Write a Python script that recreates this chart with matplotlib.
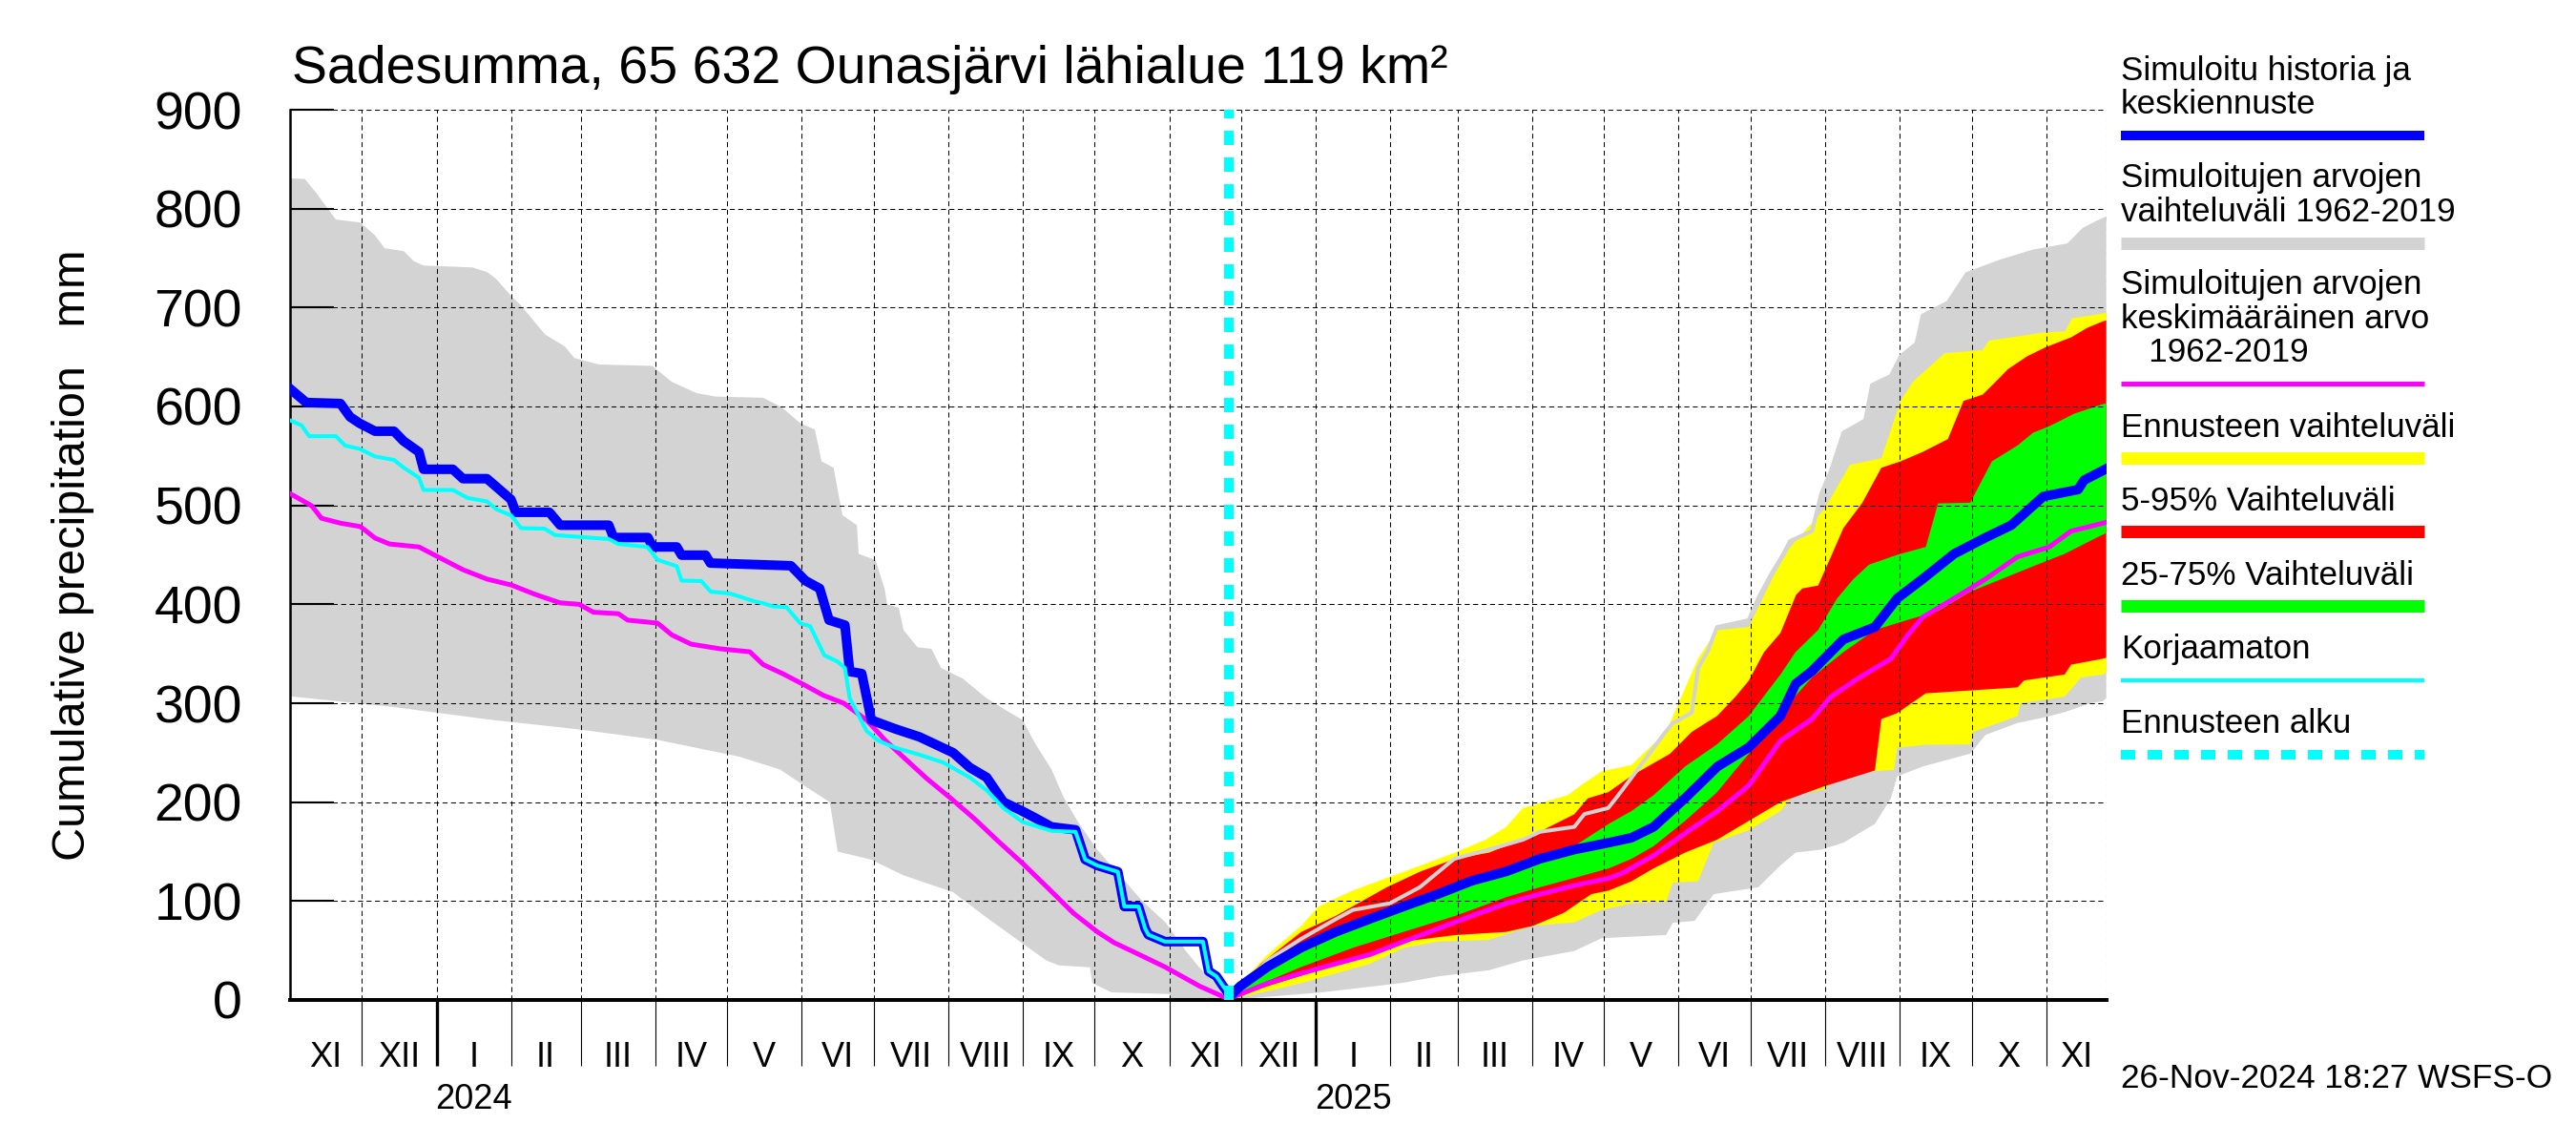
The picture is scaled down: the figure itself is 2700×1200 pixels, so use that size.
import datetime as dt

import matplotlib.pyplot as plt
import matplotlib.transforms as mtransforms
import numpy as np

plt.rcParams['font.family'] = ['Liberation Sans', 'DejaVu Sans']

# x values are days counted from 1 Nov 2023, y values are mm
START = dt.date(2023, 11, 1)
END_DAY = 756          # 26 Nov 2025
FORECAST_DAY = 391     # 26 Nov 2024

blue_day = [0, 6.8, 21, 25, 29, 35.4, 43.3, 47.3, 53.7, 55.6, 67.8, 72, 82, 92, 94, 108,
            112.5, 132.7, 134.7, 149, 151, 161, 163, 173, 175, 208.5, 214.5, 220.5, 224.4,
            231, 233, 238, 242, 252, 262, 269, 276, 283, 290, 297, 304, 311, 317, 327, 331,
            336, 344.6, 347.3, 353.2, 356, 357.3, 364.2, 380, 382.4, 385.6, 388.4, 390.6, 391,
            395.6, 407, 421, 435.3, 449.6, 463.5, 477.8, 492, 506.4, 520.3, 534.6, 548.9,
            558.4, 567.6, 580.7, 594.2, 607.3, 620.4, 626.7, 633.5, 646.6, 659.7, 669,
            679.6, 692.7, 705.8, 716.5, 729.8, 744.3, 746.8, 752, 756]
blue_mm = [618, 604, 603, 589.5, 583, 575, 575, 565, 554, 536.5, 536.5, 527, 527, 506, 493, 493,
           480, 480, 467.5, 467.5, 458, 458, 449.7, 449.7, 441.7, 439, 424, 416, 384,
           379, 332, 330, 283, 274, 266, 258, 250, 235, 225, 200, 192, 183, 175, 172, 142,
           136, 129.6, 94.5, 94.5, 72, 66, 59, 59, 29, 24, 14, 7, 3,
           14, 33.6, 53, 68.8, 82, 94.5, 107, 120.5, 130, 142.7, 152, 159,
           164, 175, 204, 236, 255.5, 287, 319.5, 332.5, 364.5, 377, 406,
           425.6, 451, 467.5, 480, 509, 516, 525.5, 532, 537]

cyan_day = [0, 4.8, 8, 19.1, 23, 29.2, 35.4, 43.3, 47.4, 53.7, 55.6, 67.8, 74, 82, 86, 92,
            96.2, 106, 110.3, 132.7, 136.7, 148.8, 153, 161, 163, 171.2, 175.2, 183, 193.4,
            197, 201, 206.7, 212.5, 216.5, 220.5, 222.4, 228, 231, 233, 240, 245, 252, 262,
            272, 283, 290, 297, 305, 317, 327, 331, 336, 344.6, 347.3, 353.2, 356, 357.3,
            364.2, 380, 382.4, 385.6, 388.4, 390.6, 391]
cyan_mm = [586, 581, 570, 570, 560.5, 557, 549.5, 546, 538, 528, 515.6, 515.6, 507.5, 504, 496, 490,
           477, 476.5, 470, 466, 461, 458, 445, 438.5, 424, 423.5, 412.7, 411, 403,
           401, 398, 397, 380.6, 378, 358, 348.6, 342, 335.6, 305, 272, 262, 255, 248,
           240, 225, 212, 194, 180, 171, 170, 142, 136, 129.6, 94.5, 94.5, 72, 66,
           59, 59, 29, 24, 14, 7, 3]

mean_day = [0, 9.1, 13.1, 21.1, 29.3, 35.4, 41.4, 53.7, 61.6, 72, 82, 92.2, 102.1, 112.4, 120.4,
            126.3, 136.7, 140.6, 153, 159, 167, 179.1, 191.4, 197, 205, 214.5, 222, 230.5, 240,
            248, 256, 265, 275, 285, 295, 305, 316, 326, 336, 343, 350.4, 364.2, 378.6, 390.6,
            407, 421, 435.3, 449.6, 463.5, 477.8, 492, 506.4, 520.3, 534.6, 548.9, 554.4,
            567.6, 580.7, 594.2, 607.3, 620.4, 633.5, 641.4, 653.3, 666.4, 673, 679.6, 692.7,
            705.8, 719.1, 732.3, 741.4, 754.6, 756]
mean_mm = [512, 499.5, 487, 482, 478.6, 467, 461, 458, 448, 435, 425.5, 419.5, 410, 401.5, 400,
           392, 390.5, 384, 381, 369, 359.7, 355, 352, 339, 330, 318, 308, 300, 283,
           262, 244, 224, 204, 183, 160, 138, 112, 88, 69, 58, 49.5, 33.4, 14, 1,
           17, 27, 36.6, 46, 59, 72, 85, 97.7, 107, 115.7, 123, 128,
           146, 168.5, 191, 217, 262, 284, 306.6, 326, 345, 367.7, 387, 406,
           425.6, 448, 458, 474, 482, 483]

grey_up_day = [0, 6.2, 11.2, 19.1, 29.2, 35.4, 39.4, 47.4, 51.5, 55.6, 75.9, 82, 85.8, 92.1, 96.2,
               106.1, 114.4, 118.4, 128.5, 150.8, 158.9, 169.1, 177.2, 197, 204.8, 212.5, 218.5,
               221.3, 226.3, 228, 230, 236, 236.7, 243.7, 247.5, 248.6, 253.4, 255.4, 261.2, 267,
               271, 280, 290, 300, 305, 310, 317, 322, 328, 336, 348.7, 354.4, 364.4, 372.9,
               378.5, 390, 391,
               395.6, 407, 421, 435.3, 442.4, 457.8, 470.3, 484.6, 498.9, 513.2, 520.3, 534.6,
               538.8, 548.7, 552.9, 558.4, 571.6, 575.6, 583.5, 586.1, 590, 594, 607.2, 611.1,
               616.4, 621.6, 624.4, 633.5, 637.4, 641.4, 646.6, 655.7, 658.5, 666.4, 670.4, 677,
               679.6, 690.1, 698, 712.5, 725.6, 740.2, 746.7, 752, 756]
grey_up_mm = [830.6, 830, 815, 789, 786, 773, 760, 757, 747, 742.5, 740.6, 736, 729, 711.7, 702,
              673, 660.6, 649, 642.5, 641, 625, 613.6, 610, 608.8, 599, 583, 576.7,
              544.5, 538, 515.6, 490, 480, 451, 444.8, 416, 400, 396.6, 374, 356.6, 355,
              335.6, 325, 305, 290, 283, 260, 233, 205, 180, 152, 117, 101, 78.4, 49.5,
              33, 5, 0,
              14, 40, 62, 81.7, 91, 97.7, 114, 142.7, 152, 162, 170, 175,
              188, 194, 207, 224.7, 268, 280, 290.5, 335.6, 352, 377, 384, 406,
              430, 451, 464, 474, 512, 535, 573.5, 586, 621.7, 631, 650.6, 663.5,
              692, 705, 734, 747, 756.7, 763, 779, 785.6, 790]

grey_lo_day = [0, 43.6, 84.5, 118.7, 152.9, 187, 204, 214.5, 224.7, 228, 241.8, 255.4, 276, 289.6,
               303.3, 314.8, 320, 333, 334, 342, 366, 367, 391, 401, 429.6, 463.5, 477.8, 499,
               513.2, 534.6, 545.9, 558.4, 572.8, 575.6, 584.7, 592.6, 611.2, 620.4, 626.7,
               637.4, 646.6, 659.7, 666.4, 669, 679.6, 699.4, 705.8, 719.1, 730.8, 738.7, 749.4,
               754.6, 756]
grey_lo_mm = [307, 296, 283, 274, 263, 246, 233, 216, 200, 150, 142, 126, 109, 84,
              60, 40, 35, 33, 17, 7.7, 6, 1, 0, 2, 7.7, 17.4, 23.8, 30,
              40, 49.5, 62.4, 64, 65.6, 78, 80, 107, 114, 136, 149,
              152, 159, 178, 204, 226, 236, 249, 268, 280, 286, 291, 300,
              302, 305]

# forecast bands (from the forecast start onwards)
yel_up_day = [391, 395.6, 407, 421, 428.1, 442.4, 456.6, 470.7, 485, 497.7, 506.3, 513.2, 531.9,
              537.4, 545.9, 558.4, 572.8, 586.1, 594, 607.2, 617.6, 624.4, 638.6, 649.3, 662.4,
              670.4, 675.5, 688.7, 704.5, 707.2, 729.8, 738.9, 741.7, 754.6, 756]
yel_up_mm = [0, 17, 46, 75, 94.5, 110.6, 123.4, 136, 149, 162, 175, 194, 207,
             217, 231, 237.5, 271, 345, 374, 377, 429, 457.7, 496, 541, 547.7,
             605.6, 625, 653.8, 657, 666.6, 674.7, 676, 689, 694, 695]
yel_lo_day = [391, 421, 449.6, 463.5, 477.8, 499.1, 509, 517.5, 534.6, 545.9, 558.4, 572.8, 575.6,
              586.1, 592.6, 607.2, 620.4, 625.7, 638.6, 646.6, 667.6, 669, 680.8, 699.4, 700.6,
              719.1, 720.3, 738.7, 745.5, 754.6, 756]
yel_lo_mm = [0, 17, 36.6, 52.7, 59, 60.8, 68.8, 75, 78.4, 91, 97.7, 99, 118.6,
             120, 158.8, 171.6, 191, 207, 213, 229, 232.6, 255, 258, 258.4, 271,
             287, 300, 306.6, 326, 329, 331]

red_up_day = [391, 404.1, 421, 435.3, 456.6, 470.7, 485, 499.1, 516, 534.6, 540.2, 548.7, 558.4,
              574.4, 583.5, 590, 594, 601.7, 607.2, 613.6, 620.4, 626.9, 629.5, 636.1, 641.4,
              646.6, 654.5, 662.4, 670.4, 679.6, 690.1, 696.6, 704.6, 711.2, 715.1, 723, 730.9,
              741.5, 748.1, 754.6, 756]
red_up_mm = [0, 36.6, 68.8, 85, 114, 130, 142.7, 149, 165, 187.7, 203.8, 210, 226.6,
             248.8, 271, 281, 287, 306.6, 322.7, 351.7, 371, 409.5, 416, 419, 448,
             477, 502.7, 538, 544.5, 554, 567, 605.6, 612, 628, 637.7, 650.6, 660,
             670, 679.5, 686, 687]
red_lo_day = [391, 407, 428.1, 449.6, 463.5, 485, 506.3, 517.5, 530.2, 541.7, 548.9, 558.4, 567.6,
              580.7, 594, 607.2, 620.4, 638.6, 659.7, 662.4, 669, 680.9, 719.1, 721.8, 738.7,
              741.4, 754.6, 756]
red_lo_mm = [0, 14, 30, 46, 59, 65.6, 68.8, 75, 88, 107, 110.6, 120, 133,
             149, 162, 181, 200, 216, 232, 284, 290, 310, 316, 323, 329,
             339, 345, 346]

grn_up_day = [391, 400, 421, 442.4, 463.5, 485, 506.3, 520.3, 534.6, 548.9, 558.4, 567.6, 580.7,
              594, 607.2, 620.4, 626.7, 636.1, 644, 650.6, 657.2, 669, 680.9, 686, 699.4, 708.4,
              719.1, 725.6, 732.3, 742.7, 754.6, 756]
grn_up_mm = [0, 20.5, 49.5, 72, 91, 110.6, 126.6, 146, 155.5, 178, 191, 207, 236,
             258.4, 287, 329, 351.7, 374, 406, 425, 440, 450, 458, 502, 502.7, 544.5,
             560.6, 573.5, 580, 592.7, 602.4, 603]
grn_lo_day = [391, 400, 421, 442.4, 463.5, 485, 506.3, 520.3, 534.6, 548.9, 558.4, 567.6, 580.7,
              594, 607.2, 620.4, 633.5, 646.6, 659.7, 673, 686.2, 699.4, 712.5, 725.6, 738.7,
              752, 756]
grn_lo_mm = [0, 12, 33.4, 52.7, 68.8, 85, 104, 114, 123.4, 133, 142.7, 155.5, 181,
             210, 248.8, 290.5, 326, 351.7, 374, 384, 393.4, 412.7, 425.6, 438.5, 451,
             467.4, 472]

roman = ['I', 'II', 'III', 'IV', 'V', 'VI', 'VII', 'VIII', 'IX', 'X', 'XI', 'XII']

legend_entries = [
    (['Simuloitu historia ja', 'keskiennuste'], '#0000ff', 10, '-'),
    (['Simuloitujen arvojen', 'vaihteluväli 1962-2019'], '#d3d3d3', 13, '-'),
    (['Simuloitujen arvojen', 'keskimääräinen arvo', '   1962-2019'], '#ff00ff', 5, '-'),
    (['Ennusteen vaihteluväli'], '#ffff00', 13, '-'),
    (['5-95% Vaihteluväli'], '#ff0000', 13, '-'),
    (['25-75% Vaihteluväli'], '#00ff00', 13, '-'),
    (['Korjaamaton'], '#00ffff', 4, '-'),
    (['Ennusteen alku'], '#00ffff', 10, (0, (1.5, 1.3))),
]
legend_baselines = [[84, 119], [196, 232], [308, 344, 379], [458], [535], [613], [690], [768]]
legend_bars = [142, 254.5, 402, 480, 557, 635, 713, 791]


def band(ax, up_d, up_v, lo_d, lo_v, color, z):
    xs = np.r_[up_d, lo_d[::-1]]
    ys = np.r_[up_v, lo_v[::-1]]
    ax.fill(xs, ys, color=color, lw=0, zorder=z)


W, H = 2700, 1200
fig = plt.figure(figsize=(W / 100, H / 100), dpi=100)
ax = fig.add_axes([303.9 / W, 1 - 1048 / H, (2207.6 - 303.9) / W, (1048 - 115) / H])
ax.set_xlim(0, END_DAY)
ax.set_ylim(0, 900)

band(ax, grey_up_day, grey_up_mm, grey_lo_day, grey_lo_mm, '#d3d3d3', 1)
band(ax, yel_up_day, yel_up_mm, yel_lo_day, yel_lo_mm, '#ffff00', 2)
band(ax, red_up_day, red_up_mm, red_lo_day, red_lo_mm, '#ff0000', 3)
band(ax, grn_up_day, grn_up_mm, grn_lo_day, grn_lo_mm, '#00ff00', 4)

# month boundaries
months = []
y, m = 2023, 11
while (dt.date(y, m, 1) - START).days <= END_DAY:
    months.append(dt.date(y, m, 1))
    m += 1
    if m > 12:
        y, m = y + 1, 1
month_days = [(d - START).days for d in months]

grid_ls = (0, (5, 3.5))
for d in month_days[1:] + [END_DAY]:
    ax.axvline(d, color='black', lw=0.75, ls=grid_ls, zorder=5)
for v in range(100, 901, 100):
    ax.axhline(v, color='black', lw=0.75, ls=grid_ls, zorder=5)

up_d = np.array(grey_up_day)
up_v = np.array(grey_up_mm)
fc = up_d >= FORECAST_DAY
ax.plot(up_d[fc], up_v[fc], color='#d3d3d3', lw=2.9, zorder=6)

ax.plot(mean_day, mean_mm, color='#ff00ff', lw=3.6, zorder=7)
ax.plot(blue_day, blue_mm, color='#0000ff', lw=7.2, zorder=8)
ax.plot(cyan_day, cyan_mm, color='#00ffff', lw=2.9, zorder=9)
ax.axvline(FORECAST_DAY, color='#00ffff', lw=7.2, ls=(0, (1.5, 1.3)), zorder=10)

for side in ('top', 'right'):
    ax.spines[side].set_visible(False)
ax.spines['left'].set_linewidth(1.8)
ax.spines['bottom'].set_linewidth(2.9)

ax.set_yticks(range(0, 901, 100))
ax.tick_params(axis='y', direction='in', length=33, width=1.5, labelsize=40, pad=36)

jan_days = [(d - START).days for d in months if d.month == 1]
other_days = [(d - START).days for d in months[1:] if d.month != 1]
ax.set_xticks(jan_days)
ax.set_xticks(other_days, minor=True)
ax.tick_params(axis='x', which='both', direction='out', length=50, labelbottom=False)
ax.tick_params(axis='x', which='major', width=2.4)
ax.tick_params(axis='x', which='minor', width=0.8)

lab_tr = mtransforms.blended_transform_factory(ax.transData, fig.transFigure)
edges = month_days + [END_DAY]
for i, d in enumerate(months):
    a, b = edges[i], min(edges[i + 1], END_DAY)
    if b <= a:
        continue
    ax.text((a + b) / 2, 1 - 1108 / H, roman[d.month - 1], transform=lab_tr,
            ha='center', va='center', fontsize=26)
    if d.month == 1:
        ax.text((a + b) / 2, 1 - 1153 / H, str(d.year), transform=lab_tr,
                ha='center', va='center', fontsize=26)

fig.text(306 / W, 1 - 87 / H, 'Sadesumma, 65 632 Ounasjärvi lähialue 119 km²',
         fontsize=40, va='baseline', ha='left')
fig.text(77 / W, 1 - 581.5 / H, 'Cumulative precipitation   mm', rotation=90,
         fontsize=35, va='center', ha='center')

for (lines, color, thick, ls), bases, bar_y in zip(legend_entries, legend_baselines, legend_bars):
    for txt, by in zip(lines, bases):
        fig.text(2223 / W, 1 - by / H, txt, fontsize=25.2, va='baseline', ha='left')
    fig.add_artist(plt.Line2D([2223 / W, 2541 / W], [1 - bar_y / H] * 2, color=color,
                              lw=thick * 0.72, ls=ls, solid_capstyle='butt',
                              dash_capstyle='butt', transform=fig.transFigure))

fig.text(2223 / W, 1 - 1140 / H, '26-Nov-2024 18:27 WSFS-O', fontsize=25.4,
         va='baseline', ha='left')

fig.savefig('out.png', dpi=100)
